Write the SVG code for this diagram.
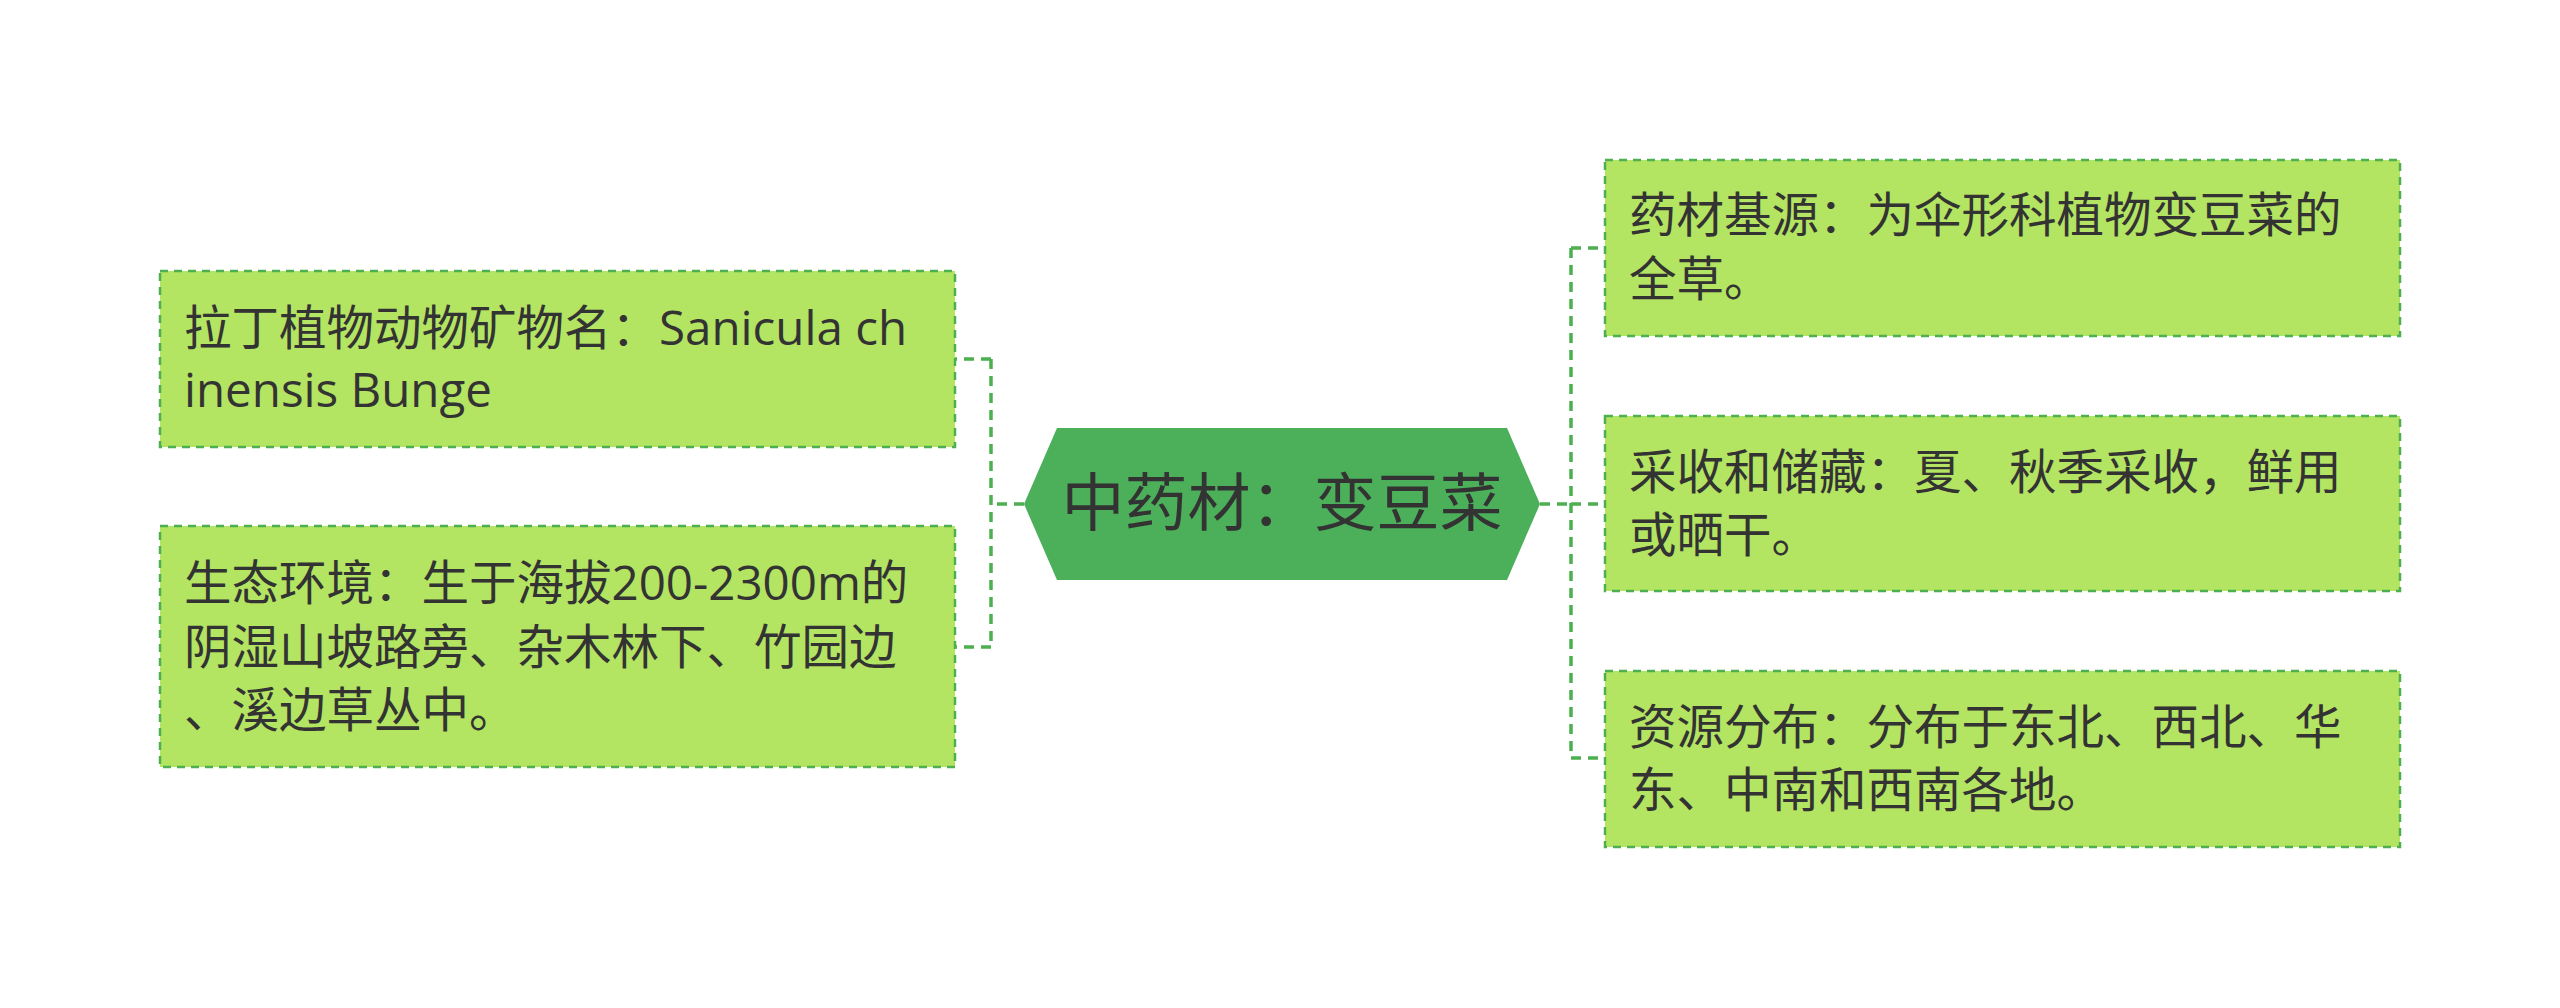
<svg xmlns="http://www.w3.org/2000/svg" width="2560" height="1008" viewBox="0 0 2560 1008">
<style>
.n{fill:#b3e462;stroke:#4caf50;stroke-width:2.5;stroke-dasharray:8 6}
.t{font-family:"Open Sans","Noto Sans CJK SC",sans-serif;font-size:47.5px;fill:#333}
.c{fill:none;stroke:#4caf50;stroke-width:3.5;stroke-dasharray:10 7}
</style>
<rect width="2560" height="1008" fill="#fff"/>
<g id="connectors">
<path class="c" d="M1024 504H991M991 359V647M991 359H955M991 647H955"/>
<path class="c" d="M1540 504H1571M1571 248V758M1571 248H1605M1571 504H1605M1571 758H1605"/>
</g>
<g id="center">
<polygon points="1024,504 1057,428 1507,428 1540,504 1507,580 1057,580" fill="#4caf5a"/>
<text x="1282" y="525" text-anchor="middle" style="font-family:'Open Sans','Noto Sans CJK SC',sans-serif;font-size:63px;fill:#333">中药材：变豆菜</text>
</g>
<g id="l1"><rect class="n" x="160" y="271" width="795" height="176"/>
<text class="t" x="184" y="345">拉丁植物动物矿物名：Sanicula ch</text><text class="t" x="184" y="407">inensis Bunge</text></g>
<g id="l2"><rect class="n" x="160" y="526" width="795" height="241"/>
<text class="t" x="184" y="600">生态环境：生于海拔200-2300m的</text><text class="t" x="184" y="664">阴湿山坡路旁、杂木林下、竹园边</text><text class="t" x="184" y="727">、溪边草丛中。</text></g>
<g id="r1"><rect class="n" x="1605" y="160" width="795" height="176"/>
<text class="t" x="1629" y="232">药材基源：为伞形科植物变豆菜的</text><text class="t" x="1629" y="296">全草。</text></g>
<g id="r2"><rect class="n" x="1605" y="416" width="795" height="175"/>
<text class="t" x="1629" y="489">采收和储藏：夏、秋季采收，鲜用</text><text class="t" x="1629" y="552">或晒干。</text></g>
<g id="r3"><rect class="n" x="1605" y="671" width="795" height="176"/>
<text class="t" x="1629" y="744">资源分布：分布于东北、西北、华</text><text class="t" x="1629" y="807">东、中南和西南各地。</text></g>
</svg>
